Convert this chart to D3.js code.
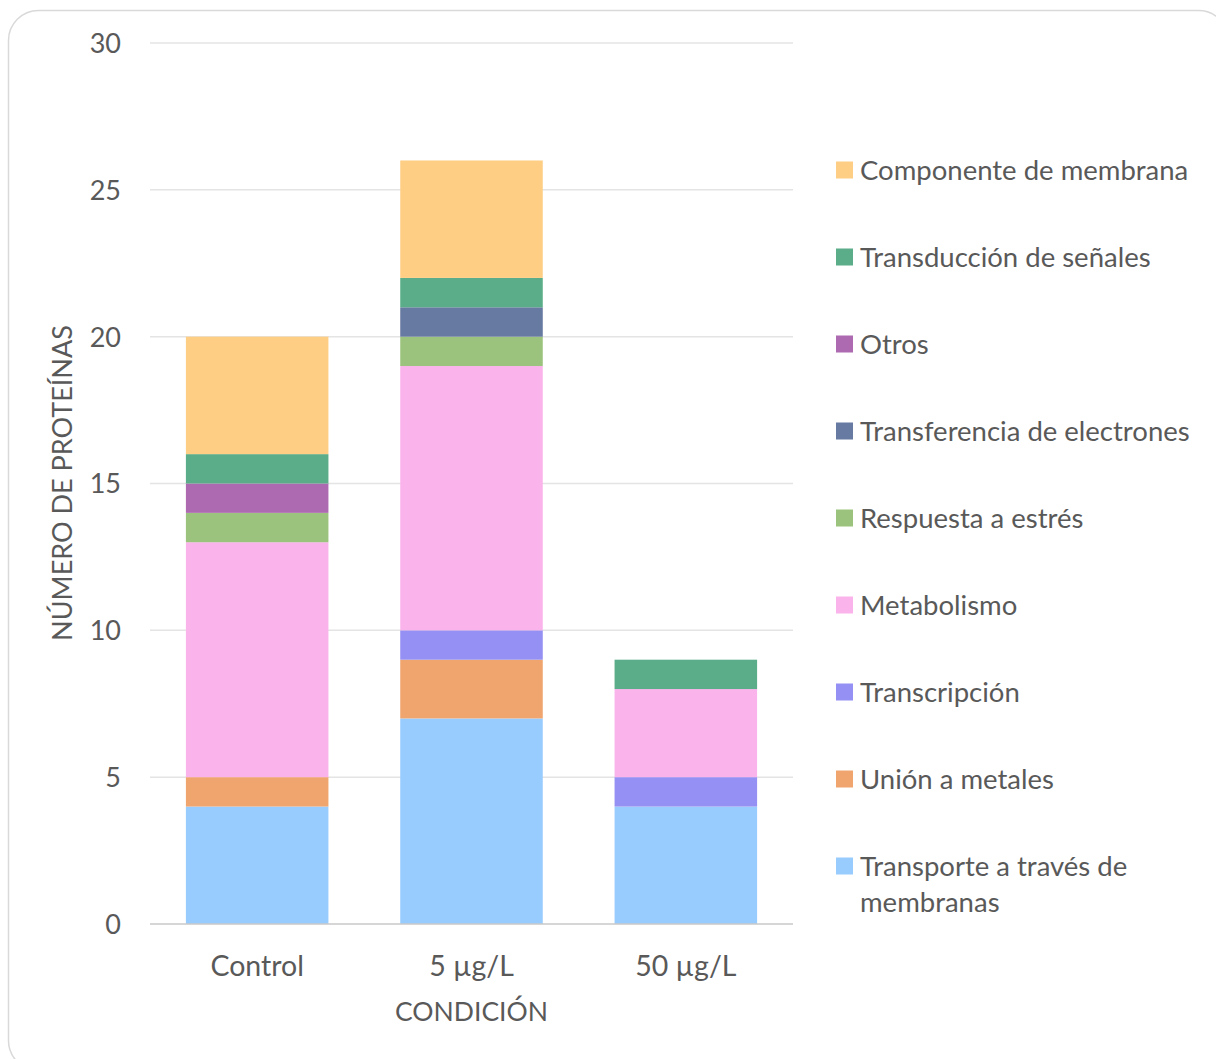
<!DOCTYPE html>
<html>
<head>
<meta charset="utf-8">
<script src="https://cdn.jsdelivr.net/npm/d3@7/dist/d3.min.js"></script>
<style>
  html, body { margin: 0; padding: 0; background: #fff; }
  svg { display: block; }
  text { font-family: Lato, "Open Sans", sans-serif; fill: #595959; }
</style>
</head>
<body>
<svg id="chart" width="1216" height="1059"></svg>
<script>
// Conditions on the x axis
const conditions = ["Control", "5 µg/L", "50 µg/L"];

// Protein categories, bottom of the stack first
const categories = [
  "Transporte a través de membranas",
  "Unión a metales",
  "Transcripción",
  "Metabolismo",
  "Respuesta a estrés",
  "Transferencia de electrones",
  "Otros",
  "Transducción de señales",
  "Componente de membrana"
];

// Number of proteins per category, one value per condition
const transporte     = [4, 7, 4];
const unionMetales   = [1, 2, 0];
const transcripcion  = [0, 1, 1];
const metabolismo    = [8, 9, 3];
const respuesta      = [1, 1, 0];
const transferencia  = [0, 1, 0];
const otros          = [1, 0, 0];
const transduccion   = [1, 1, 1];
const componente     = [4, 4, 0];

const seriesValues = [transporte, unionMetales, transcripcion, metabolismo,
  respuesta, transferencia, otros, transduccion, componente];

const colors = ["#99CCFE", "#F0A56E", "#9590F3", "#FBB3EC", "#9BC37D",
  "#677AA1", "#AD6AB1", "#5AAD88", "#FECE85"];

const yTicks = [0, 5, 10, 15, 20, 25, 30];

const svg = d3.select("#chart");

// Chart frame with rounded corners
svg.append("rect")
  .attr("x", 8.5).attr("y", 10.5)
  .attr("width", 1220).attr("height", 1060)
  .attr("rx", 30).attr("ry", 30)
  .attr("fill", "#fff")
  .attr("stroke", "#d9d9d9").attr("stroke-width", 1.5);

const plot = { left: 150, right: 793, top: 43, bottom: 924 };

const x = d3.scaleBand()
  .domain(conditions)
  .range([plot.left, plot.right])
  .paddingInner(0.335)
  .paddingOuter(0.1675);

const y = d3.scaleLinear()
  .domain([0, 30])
  .range([plot.bottom, plot.top]);

// Horizontal gridlines
svg.append("g")
  .selectAll("line")
  .data(yTicks.filter(t => t > 0))
  .join("line")
  .attr("x1", plot.left).attr("x2", plot.right)
  .attr("y1", d => y(d)).attr("y2", d => y(d))
  .attr("stroke", "#e4e4e4").attr("stroke-width", 1.5);

// Stacked data
const rows = conditions.map((c, i) => {
  const r = { condition: c };
  categories.forEach((k, j) => r[k] = seriesValues[j][i]);
  return r;
});
const stacked = d3.stack().keys(categories)(rows);

svg.append("g")
  .selectAll("g")
  .data(stacked)
  .join("g")
  .attr("fill", (d, i) => colors[i])
  .selectAll("rect")
  .data(d => d)
  .join("rect")
  .attr("x", d => x(d.data.condition))
  .attr("width", x.bandwidth())
  .attr("y", d => y(d[1]))
  .attr("height", d => y(d[0]) - y(d[1]));

// Baseline
svg.append("line")
  .attr("x1", plot.left).attr("x2", plot.right)
  .attr("y1", y(0)).attr("y2", y(0))
  .attr("stroke", "#c8c8c8").attr("stroke-width", 1.5);

// Y axis labels
const yAxis = d3.axisLeft(y).tickValues(yTicks).tickSize(0).tickPadding(0);
const gy = svg.append("g")
  .attr("transform", "translate(121,0)")
  .call(yAxis);
gy.select(".domain").remove();
gy.selectAll("text")
  .attr("font-family", "Lato, 'Open Sans', sans-serif")
  .attr("font-size", 27)
  .attr("fill", "#595959")
  .attr("dy", "0.35em");

// X axis labels
const xAxis = d3.axisBottom(x).tickSize(0).tickPadding(0);
const gx = svg.append("g")
  .attr("transform", `translate(0,${plot.bottom})`)
  .call(xAxis);
gx.select(".domain").remove();
gx.selectAll("text")
  .attr("font-family", "Lato, 'Open Sans', sans-serif")
  .attr("font-size", 28.5)
  .attr("fill", "#595959")
  .attr("y", 52)
  .attr("dy", 0);

// Axis titles
svg.append("text")
  .attr("x", (plot.left + plot.right) / 2)
  .attr("y", 1021)
  .attr("text-anchor", "middle")
  .attr("font-size", 26.5)
  .text("CONDICIÓN");

svg.append("text")
  .attr("transform", "translate(72,483) rotate(-90)")
  .attr("text-anchor", "middle")
  .attr("font-size", 27)
  .text("NÚMERO DE PROTEÍNAS");

// Legend, top entry is the top of the stack
const legendItems = categories.map((c, i) => ({ name: c, color: colors[i] })).reverse();
const legend = svg.append("g");
const rowStep = 87;
legendItems.forEach((d, i) => {
  const cy = 170 + i * rowStep;
  legend.append("rect")
    .attr("x", 836).attr("y", cy - 8.5)
    .attr("width", 17).attr("height", 17)
    .attr("fill", d.color);
  const t = legend.append("text")
    .attr("x", 860).attr("y", cy + 9.5)
    .attr("font-size", 27.5);
  if (d.name === "Transporte a través de membranas") {
    t.append("tspan").attr("x", 860).text("Transporte a través de");
    t.append("tspan").attr("x", 860).attr("dy", 36).text("membranas");
  } else {
    t.text(d.name);
  }
});
</script>
</body>
</html>
